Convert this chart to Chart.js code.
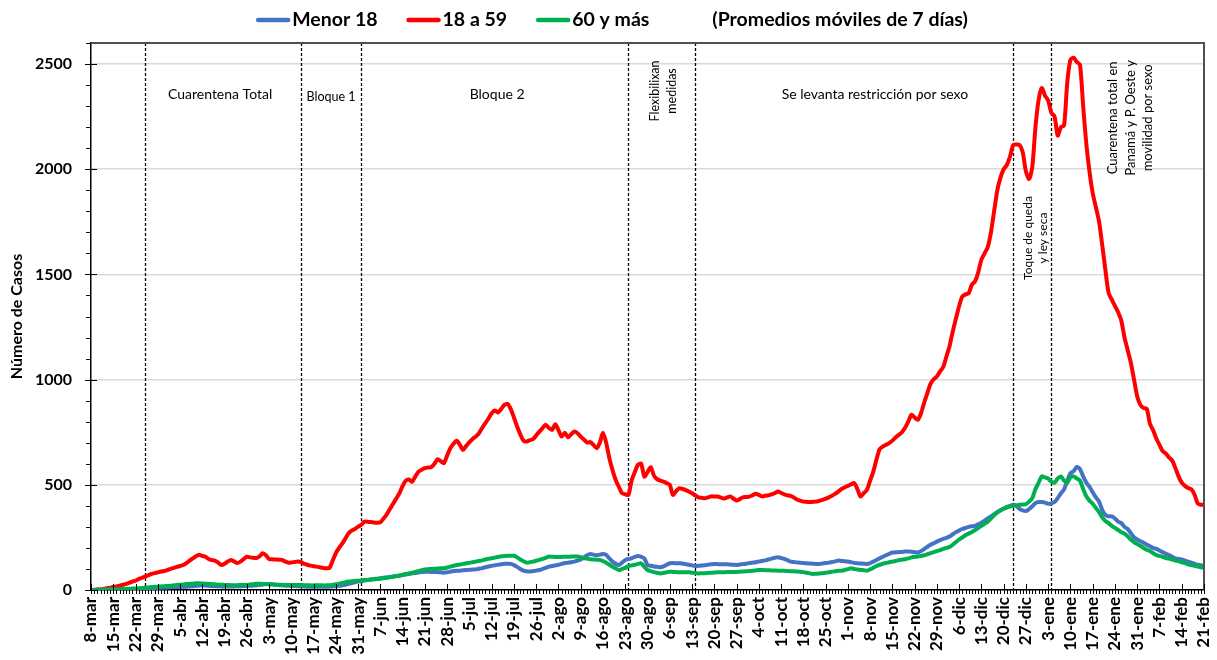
<!DOCTYPE html>
<html><head><meta charset="utf-8">
<script src="https://cdn.jsdelivr.net/npm/chart.js@4.4.0/dist/chart.umd.min.js"></script>
<style>html,body{margin:0;padding:0;background:#fff;}#wrap{width:1217px;height:660px;}</style>
</head><body><div id="wrap"><canvas id="c" width="1217" height="660"></canvas></div>
<script>
// Weekly tick labels (one every 7 days, starting 8-mar-2020)
const tickLabels = ['8-mar','15-mar','22-mar','29-mar','5-abr','12-abr','19-abr','26-abr','3-may','10-may','17-may','24-may','31-may','7-jun','14-jun','21-jun','28-jun','5-jul','12-jul','19-jul','26-jul','2-ago','9-ago','16-ago','23-ago','30-ago','6-sep','13-sep','20-sep','27-sep','4-oct','11-oct','18-oct','25-oct','1-nov','8-nov','15-nov','22-nov','29-nov','6-dic','13-dic','20-dic','27-dic','3-ene','10-ene','17-ene','24-ene','31-ene','7-feb','14-feb','21-feb'];
const yTicks = [0, 500, 1000, 1500, 2000, 2500];

const seriesNames = ['Menor 18','18 a 59','60 y más'];
const seriesColors = ['#4472C4','#FF0000','#00B050'];
const noteText = '(Promedios móviles de 7 días)';

// Daily 7-day moving averages, 8-mar-2020 .. 21-feb-2021
const menor18 = [
0,0,1,1,1,1,2, 2,2,3,3,4,4,5, 5,6,6,7,8,9,10, 10,11,12,12,13,14,14,
15,16,16,17,18,20,21, 22,21,20,19,18,18,17, 17,17,17,17,18,18,19, 19,20,21,22,24,26,28,
28,27,25,24,22,21,20, 19,19,18,18,17,16,16, 15,15,15,15,15,16,17, 18,20,22,25,29,33,37,
40,42,45,47,50,52,54, 56,58,60,62,64,66,68, 71,74,77,79,81,83,85, 87,87,86,86,85,84,82,
84,87,90,91,92,94,95, 96,97,98,101,104,108,112, 115,118,120,122,125,125,124, 118,110,100,92,89,88,90,
92,95,100,105,111,114,117, 120,124,128,130,132,135,140, 145,155,165,171,168,165,168, 171,167,150,135,125,119,130,
143,147,151,157,162,158,150, 119,115,112,110,108,112,120, 127,128,127,127,126,123,120, 117,114,115,116,118,120,122,
124,123,122,122,122,121,120, 119,121,123,125,128,130,132, 135,138,141,145,149,153,156, 152,148,142,135,133,131,130,
128,127,126,125,124,124,126, 128,130,133,136,140,138,137, 135,132,129,127,126,125,124, 128,135,143,151,158,165,172,
178,179,180,181,183,183,182, 180,178,185,195,205,215,222, 230,237,243,248,254,265,275, 283,290,295,300,303,305,312,
320,330,340,350,360,370,378, 386,395,400,405,400,385,378, 375,385,398,413,418,418,415, 410,412,418,437,460,478,520,
555,565,585,575,540,510,490, 465,440,420,380,357,350,350, 340,325,318,300,290,270,250, 240,232,225,215,208,200,195,
188,180,172,166,158,150,148, 145,140,135,130,125,120,118, 115];

const de18a59 = [
0,1,2,3,5,8,11, 14,17,20,25,29,34,40, 45,52,58,64,70,76,80, 84,88,90,95,100,105,110,
114,119,128,140,150,160,168, 162,158,147,142,140,130,119, 125,135,143,136,128,135,147, 158,155,153,152,160,175,165,
147,146,145,144,143,136,130, 131,133,135,133,125,120,116, 113,111,108,105,103,105,140, 175,200,220,245,270,282,290,
301,310,325,324,323,321,320, 322,340,360,385,410,435,460, 495,520,525,515,540,563,572, 579,582,584,600,622,612,603,
640,674,695,709,690,666,685, 703,718,730,745,770,793,815, 840,853,844,860,880,885,860, 820,777,740,710,706,712,717,
735,753,770,785,770,761,788, 760,729,748,726,740,753,745, 729,715,701,703,690,674,700, 748,700,627,570,523,490,460,
455,452,520,560,595,600,539, 560,584,545,527,520,515,508, 500,452,470,484,480,475,468, 460,450,440,438,436,440,445,
444,444,440,435,440,445,435, 425,432,440,442,444,450,457, 452,445,448,450,455,460,468, 462,455,450,447,440,430,425,
420,419,418,419,420,424,428, 434,440,448,457,468,480,488, 495,502,508,480,444,460,476, 520,563,620,670,682,690,698,
710,725,737,750,771,800,833, 820,809,840,890,936,980,1002, 1015,1039,1060,1110,1160,1230,1290, 1350,1395,1405,1411,1451,1467,1510,
1570,1600,1630,1700,1800,1900,1960, 2000,2020,2060,2115,2117,2115,2080, 1990,1954,2010,2200,2330,2386,2350, 2327,2268,2251,2160,2200,2208,2412,
2520,2530,2510,2497,2300,2120,1988, 1886,1820,1751,1640,1520,1412,1380, 1350,1320,1280,1200,1140,1080,1000, 920,880,865,861,790,759,720,
690,660,649,630,615,580,540, 510,495,485,479,454,412,405, 405];

const de60ymas = [
0,0,1,1,2,2,3, 3,4,4,5,6,6,7, 7,8,9,11,12,14,15, 16,17,18,19,20,22,24,
25,26,28,29,30,32,32, 31,30,29,28,27,25,25, 24,24,23,23,23,24,24, 24,26,28,30,30,29,28,
27,26,25,25,24,24,24, 24,24,24,24,23,23,22, 22,22,22,22,22,23,25, 27,30,33,37,40,42,43,
44,45,47,48,50,51,52, 54,56,58,61,63,66,69, 73,76,78,82,86,90,94, 98,99,100,101,102,103,103,
107,111,115,119,121,124,127, 129,132,135,138,141,145,148, 151,154,157,160,162,163,163, 163,155,145,137,130,132,135,
139,143,148,153,159,158,157, 157,157,158,158,159,159,159, 156,152,149,146,145,144,143, 137,130,120,111,103,95,100,
105,114,117,120,124,127,110, 95,90,85,82,79,81,84, 87,86,85,84,84,84,84, 82,81,79,80,80,81,82,
83,84,84,84,85,85,86, 86,87,88,89,90,91,93, 95,95,94,94,93,93,92, 92,91,90,89,89,88,87,
85,82,79,76,77,78,80, 82,84,87,89,91,92,95, 99,103,100,97,95,94,92, 98,106,114,120,125,128,132,
135,138,142,144,146,150,155, 157,159,162,165,170,175,180, 185,190,195,200,205,215,228, 240,250,260,268,276,285,295,
305,315,325,340,355,368,381, 387,392,396,400,402,405,406, 408,420,437,480,510,540,535, 530,515,510,530,540,520,510,
535,540,530,520,480,445,425, 410,390,370,345,328,318,305, 295,285,275,268,255,240,228, 218,210,200,191,185,175,166,
162,158,152,149,145,140,137, 132,128,122,118,115,112,108, 106];

// Days (index from 8-mar) of the dashed event lines
const eventDays = [17, 66, 85, 169, 190, 290, 302];

const FONT = "Lato, 'Open Sans', 'DejaVu Sans', sans-serif";
const toXY = arr => arr.map((v, i) => ({x: i, y: v}));

// annotation placement (day, value) – layout only
const annotations = [
  {lines:['Cuarentena Total'], days:[40.6], val:2353, size:14, rot:false},
  {lines:['Bloque 1'], days:[75.5], val:2343, size:12.5, rot:false},
  {lines:['Bloque 2'], days:[127.7], val:2353, size:14, rot:false},
  {lines:['Flexibilixan','medidas'], days:[177.4,182.8], val:2372, size:12.5, rot:true},
  {lines:['Se levanta restricción por sexo'], days:[246.5], val:2353, size:14, rot:false},
  {lines:['Toque de queda','y ley seca'], days:[294.7,299.4], val:1673, size:12, rot:true},
  {lines:['Cuarentena total en','Panamá y P. Oeste y','movilidad por sexo'], days:[321.4,327,332.4], val:2244, size:13, rot:true}
];

const decor = {
  id: 'decor',
  beforeDatasetsDraw(chart) {
    const {ctx, chartArea: a, scales: {x, y}} = chart;
    ctx.save();
    ctx.strokeStyle = '#000'; ctx.lineWidth = 1.3; ctx.setLineDash([3, 2]);
    eventDays.forEach(d => {
      const px = Math.round(x.getPixelForValue(d)) + 0.5;
      ctx.beginPath(); ctx.moveTo(px, a.top); ctx.lineTo(px, a.bottom); ctx.stroke();
    });
    ctx.setLineDash([]);
    ctx.fillStyle = '#000'; ctx.textAlign = 'center'; ctx.textBaseline = 'middle';
    annotations.forEach(an => {
      ctx.font = an.size + 'px ' + FONT;
      an.lines.forEach((t, i) => {
        const px = x.getPixelForValue(an.days[i]);
        const py = y.getPixelForValue(an.val);
        if (an.rot) {
          ctx.save(); ctx.translate(px, py); ctx.rotate(-Math.PI / 2);
          ctx.fillText(t, 0, 0); ctx.restore();
        } else {
          ctx.fillText(t, px, py);
        }
      });
    });
    ctx.restore();
  },
  afterDraw(chart) {
    const {ctx, chartArea: a, scales: {x, y}} = chart;
    ctx.save();
    ctx.strokeStyle = '#505050'; ctx.lineWidth = 2;
    ctx.beginPath(); ctx.moveTo(a.left, a.top); ctx.lineTo(a.right, a.top); ctx.lineTo(a.right, a.bottom); ctx.stroke();
    ctx.strokeStyle = '#000'; ctx.lineWidth = 1;
    for (let d = 0; d <= 350; d++) {
      const px = Math.round(x.getPixelForValue(d)) + 0.5;
      ctx.beginPath();
      if (d % 7 === 0) { ctx.moveTo(px, a.bottom - 6); ctx.lineTo(px, a.bottom + 4); }
      else { ctx.moveTo(px, a.bottom); ctx.lineTo(px, a.bottom + 4); }
      ctx.stroke();
    }
    for (let v = 0; v <= 2600; v += 100) {
      const py = Math.round(y.getPixelForValue(v)) + 0.5;
      ctx.beginPath();
      if (v % 500 === 0) { ctx.moveTo(a.left - 6, py); ctx.lineTo(a.left + 6, py); }
      else { ctx.moveTo(a.left - 5, py); ctx.lineTo(a.left, py); }
      ctx.stroke();
    }
    // legend
    ctx.font = 'bold 19.5px ' + FONT;
    ctx.textBaseline = 'middle'; ctx.textAlign = 'left';
    const sw = 34, g1 = 2, g2 = 29, gNote = 63, ly = 20;
    let total = 0;
    seriesNames.forEach((n, i) => { total += sw + g1 + ctx.measureText(n).width + (i < 2 ? g2 : 0); });
    total += gNote + ctx.measureText(noteText).width;
    let cx = 612 - total / 2;
    seriesNames.forEach((n, i) => {
      ctx.strokeStyle = seriesColors[i]; ctx.lineWidth = 4.5; ctx.lineCap = 'round';
      ctx.beginPath(); ctx.moveTo(cx + 2, ly); ctx.lineTo(cx + sw - 2, ly); ctx.stroke();
      cx += sw + g1;
      ctx.fillStyle = '#000'; ctx.fillText(n, cx, ly);
      cx += ctx.measureText(n).width + (i < 2 ? g2 : 0);
    });
    cx += gNote;
    ctx.fillText(noteText, cx, ly);
    ctx.restore();
  }
};

new Chart(document.getElementById('c'), {
  type: 'line',
  data: {
    datasets: [
      {label: seriesNames[2], data: toXY(de60ymas), borderColor: seriesColors[2], order: 0},
      {label: seriesNames[1], data: toXY(de18a59), borderColor: seriesColors[1], order: 1},
      {label: seriesNames[0], data: toXY(menor18), borderColor: seriesColors[0], order: 2}
    ]
  },
  options: {
    responsive: false, animation: false,
    layout: {padding: {top: 43, right: 13, left: 0, bottom: 0}},
    elements: {point: {radius: 0}, line: {borderWidth: 4, tension: 0.25, borderCapStyle: 'round', borderJoinStyle: 'round', fill: false}},
    plugins: {legend: {display: false}, tooltip: {enabled: false}},
    scales: {
      x: {
        type: 'linear', min: 0, max: 350,
        afterBuildTicks: s => { s.ticks = tickLabels.map((_, i) => ({value: i * 7})); },
        afterFit: s => { s.height = 70; s.paddingLeft = 0; s.paddingRight = 0; },
        ticks: {autoSkip: false, maxRotation: 90, minRotation: 90, padding: 7, color: '#000',
          font: {family: FONT, size: 17, weight: 'bold'},
          callback: v => tickLabels[Math.round(v / 7)]},
        grid: {display: false, drawTicks: false},
        border: {display: true, color: '#000', width: 1.5}
      },
      y: {
        min: 0, max: 2600,
        afterBuildTicks: s => { s.ticks = yTicks.map(v => ({value: v})); },
        afterFit: s => { s.width = 91; s.paddingTop = 0; s.paddingBottom = 0; },
        ticks: {autoSkip: false, padding: 19, color: '#000', font: {family: FONT, size: 16, weight: 'bold'},
          callback: v => String(v)},
        grid: {color: '#d9d9d9', lineWidth: 1.5, drawTicks: false},
        border: {display: true, color: '#000', width: 1.5},
        title: {display: true, text: 'Número de Casos', color: '#000', font: {family: FONT, size: 16, weight: 'bold'}, padding: {top: 7, bottom: 0}}
      }
    }
  },
  plugins: [decor]
});
</script>
</body></html>
